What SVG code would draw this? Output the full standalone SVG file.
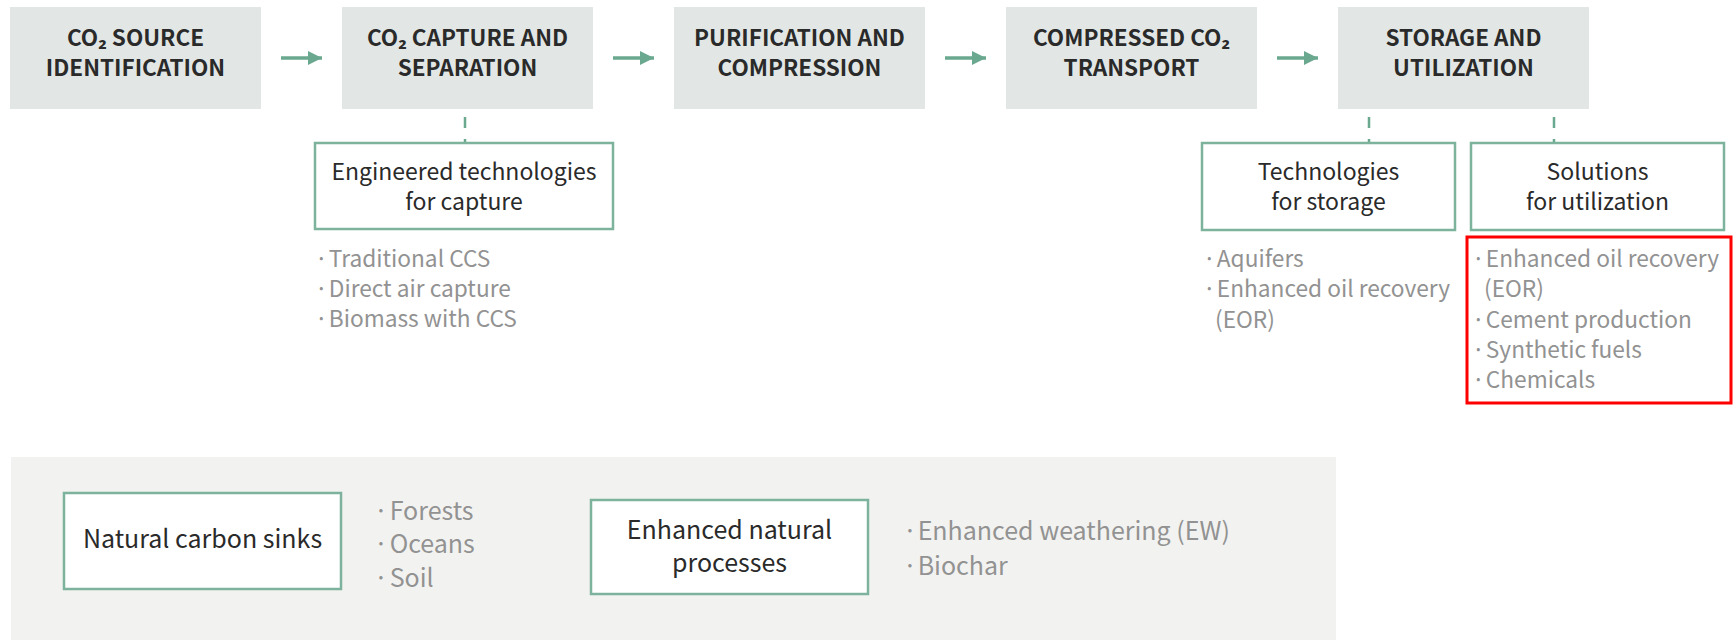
<svg xmlns="http://www.w3.org/2000/svg" width="1735" height="640" viewBox="0 0 1735 640">
<style>
text{font-family:"Noto Sans CJK KR","Noto Sans",sans-serif;}
.step rect{fill:#e2e7e5;}
.step text{font-size:22.5px;font-weight:700;fill:#2a2a2a;text-anchor:middle;}
.sub rect{fill:#ffffff;stroke:#7db39d;stroke-width:2.5;}
.sub text{font-size:23px;fill:#2a2a2a;text-anchor:middle;}
.list{font-size:22.7px;fill:#929292;}
.low .list{font-size:25px;}
.low.sub text{font-size:25px;}
.arrow{stroke:#6aa88f;stroke-width:3.5;fill:none;}
.dash{stroke:#6aa88f;stroke-width:2.5;stroke-dasharray:11 11;fill:none;}
</style>
<defs>
<marker id="ah" markerWidth="14" markerHeight="14" viewBox="0 0 14 14" refX="14" refY="7" orient="auto" markerUnits="userSpaceOnUse">
<path d="M0,0 L14,7 L0,14 Z" fill="#6aa88f"/>
</marker>
</defs>
<rect x="11" y="457" width="1325" height="183" fill="#f2f2f1"/>
<g id="step1" class="step"><rect x="10" y="7" width="251" height="102"/><text x="135.5" y="46">CO₂ SOURCE</text><text x="135.5" y="76">IDENTIFICATION</text></g>
<g id="step2" class="step"><rect x="342" y="7" width="251" height="102"/><text x="467.5" y="46">CO₂ CAPTURE AND</text><text x="467.5" y="76">SEPARATION</text></g>
<g id="step3" class="step"><rect x="674" y="7" width="251" height="102"/><text x="799.5" y="46">PURIFICATION AND</text><text x="799.5" y="76">COMPRESSION</text></g>
<g id="step4" class="step"><rect x="1006" y="7" width="251" height="102"/><text x="1131.5" y="46">COMPRESSED CO₂</text><text x="1131.5" y="76">TRANSPORT</text></g>
<g id="step5" class="step"><rect x="1338" y="7" width="251" height="102"/><text x="1463.5" y="46">STORAGE AND</text><text x="1463.5" y="76">UTILIZATION</text></g>
<g id="connectors">
<line class="arrow" x1="281" y1="58" x2="322" y2="58" marker-end="url(#ah)"/>
<line class="arrow" x1="613" y1="58" x2="654" y2="58" marker-end="url(#ah)"/>
<line class="arrow" x1="945" y1="58" x2="986" y2="58" marker-end="url(#ah)"/>
<line class="arrow" x1="1277" y1="58" x2="1318" y2="58" marker-end="url(#ah)"/>
<line class="dash" x1="465" y1="117" x2="465" y2="143"/>
<line class="dash" x1="1369" y1="117" x2="1369" y2="143"/>
<line class="dash" x1="1554" y1="117" x2="1554" y2="143"/>
</g>
<g id="capture" class="sub"><rect x="315" y="143" width="298" height="86"/><text x="464" y="180">Engineered technologies</text><text x="464" y="210">for capture</text></g>
<g id="capture-list">
<text class="list" x="315" y="267">·<tspan dx="-4"> Traditional CCS</tspan></text>
<text class="list" x="315" y="297">·<tspan dx="-4"> Direct air capture</tspan></text>
<text class="list" x="315" y="327">·<tspan dx="-4"> Biomass with CCS</tspan></text>
</g>
<g id="storage" class="sub"><rect x="1202" y="143" width="253" height="87"/><text x="1328.5" y="180">Technologies</text><text x="1328.5" y="210">for storage</text></g>
<g id="storage-list">
<text class="list" x="1203" y="267">·<tspan dx="-4"> Aquifers</tspan></text>
<text class="list" x="1203" y="297">·<tspan dx="-4"> Enhanced oil recovery</tspan></text>
<text class="list" x="1215" y="328">(EOR)</text>
</g>
<g id="utilization" class="sub"><rect x="1471" y="143" width="253" height="87"/><text x="1597.5" y="180">Solutions</text><text x="1597.5" y="210">for utilization</text></g>
<g id="utilization-list">
<text class="list" x="1472" y="267">·<tspan dx="-4"> Enhanced oil recovery</tspan></text>
<text class="list" x="1484" y="297">(EOR)</text>
<text class="list" x="1472" y="328">·<tspan dx="-4"> Cement production</tspan></text>
<text class="list" x="1472" y="358">·<tspan dx="-4"> Synthetic fuels</tspan></text>
<text class="list" x="1472" y="388">·<tspan dx="-4"> Chemicals</tspan></text>
</g>
<rect id="highlight" x="1467" y="237" width="264" height="166" fill="none" stroke="#ff0000" stroke-width="3"/>
<g id="natural" class="sub low"><rect x="64" y="493" width="277" height="96"/><text x="202.5" y="548">Natural carbon sinks</text></g>
<g id="natural-list" class="low">
<text class="list" x="374" y="520">·<tspan dx="-4"> Forests</tspan></text>
<text class="list" x="374" y="553">·<tspan dx="-4"> Oceans</tspan></text>
<text class="list" x="374" y="587">·<tspan dx="-4"> Soil</tspan></text>
</g>
<g id="enhanced" class="sub low"><rect x="591" y="500" width="277" height="94"/><text x="729.5" y="539">Enhanced natural</text><text x="729.5" y="572">processes</text></g>
<g id="enhanced-list" class="low">
<text class="list" x="903" y="540">·<tspan dx="-5"> Enhanced weathering (EW)</tspan></text>
<text class="list" x="903" y="575">·<tspan dx="-5"> Biochar</tspan></text>
</g>
</svg>
